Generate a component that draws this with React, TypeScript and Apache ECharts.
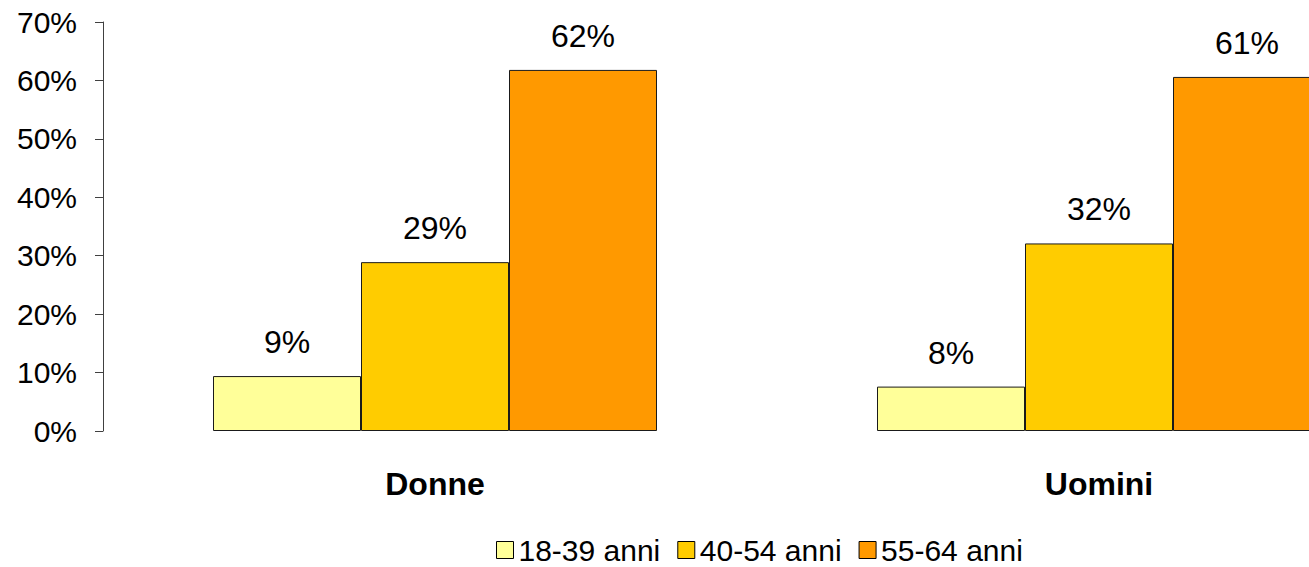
import React, { useEffect, useRef } from "react";
import * as echarts from "echarts";

const categories = ["Donne", "Uomini"];
const seriesNames = ["18-39 anni", "40-54 anni", "55-64 anni"];
const values1839 = [9.4, 7.6];
const values4054 = [28.9, 32.1];
const values5564 = [61.8, 60.6];
const labels1839 = ["9%", "8%"];
const labels4054 = ["29%", "32%"];
const labels5564 = ["62%", "61%"];
const colors = ["#FFFF99", "#FFCC00", "#FF9900"];

const FONT = "Liberation Sans, Arial, sans-serif";

export default function App() {
  const ref = useRef<HTMLDivElement>(null);
  useEffect(() => {
    if (!ref.current) return;
    const chart = echarts.init(ref.current, null, { renderer: "svg" });
    const data = [values1839, values4054, values5564];
    const labels = [labels1839, labels4054, labels5564];
    chart.setOption({
      animation: false,
      textStyle: { fontFamily: FONT },
      grid: { left: 103, top: 22, height: 409, width: 1328, containLabel: false },
      legend: {
        left: 496,
        top: 535,
        padding: 0,
        icon: "rect",
        itemWidth: 17,
        itemHeight: 17,
        itemGap: 17,
        textStyle: { fontSize: 30, lineHeight: 30, color: "#000", fontFamily: FONT },
        itemStyle: { borderColor: "#000", borderWidth: 1 },
        data: seriesNames,
      },
      xAxis: {
        type: "category",
        data: categories,
        axisLine: { show: false },
        axisTick: { show: false },
        axisLabel: { fontSize: 32, fontWeight: "bold", color: "#000", margin: 37, fontFamily: FONT },
      },
      yAxis: {
        type: "value",
        min: 0,
        max: 70,
        interval: 10,
        splitLine: { show: false },
        axisLine: { show: true, lineStyle: { color: "#404040", width: 1 } },
        axisTick: { show: true, length: 8, lineStyle: { color: "#404040" } },
        axisLabel: { formatter: "{value}%", fontSize: 30, color: "#000", margin: 26, fontFamily: FONT },
      },
      series: seriesNames.map((name, i) => ({
        name,
        type: "bar",
        barWidth: 148,
        barGap: "0%",
        data: data[i],
        itemStyle: { color: colors[i], borderColor: "#1a1a1a", borderWidth: 1 },
        label: {
          show: true,
          position: "top",
          distance: 18,
          fontSize: 32,
          color: "#000",
          fontFamily: FONT,
          formatter: (p: any) => labels[i][p.dataIndex],
        },
      })),
    });
    return () => chart.dispose();
  }, []);
  return (
    <div
      style={{ position: "absolute", left: 0, top: 0, width: 1309, height: 567, overflow: "hidden", background: "#fff" }}
    >
      <div ref={ref} style={{ width: 1440, height: 567 }} />
    </div>
  );
}
